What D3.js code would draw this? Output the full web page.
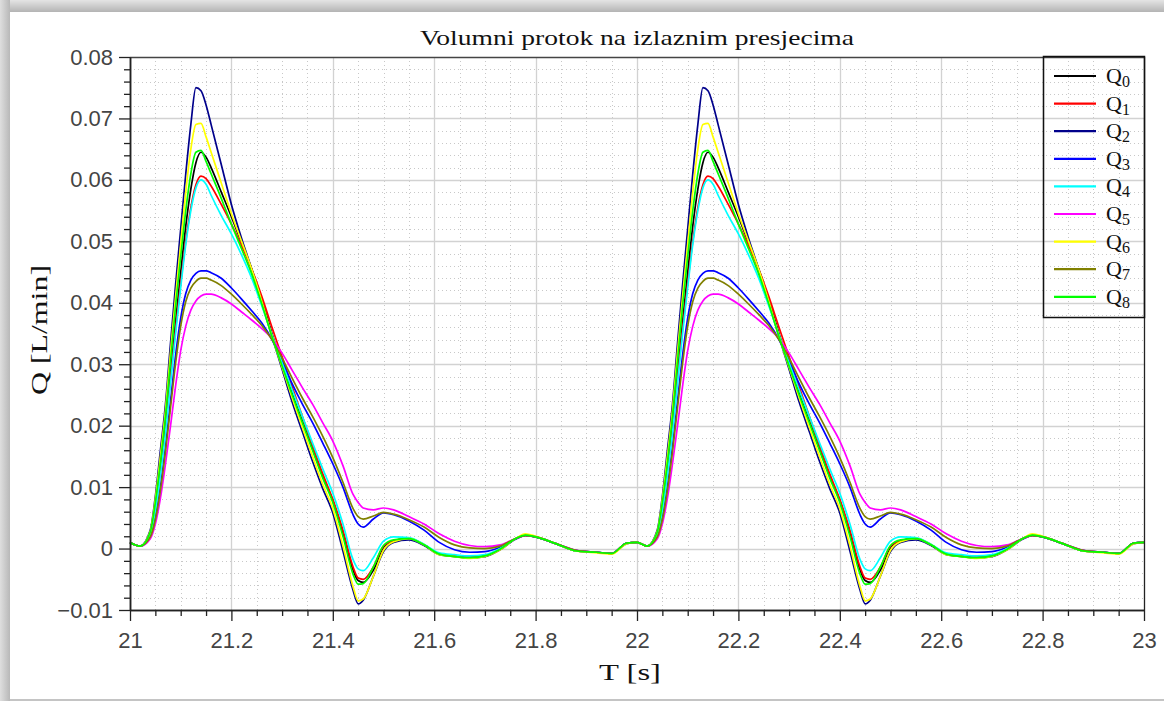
<!DOCTYPE html>
<html><head><meta charset="utf-8">
<script src="https://cdn.jsdelivr.net/npm/d3@7"></script>
<style>body{margin:0;background:#fff;} svg{display:block}</style>
</head><body><svg id="c" width="1164" height="701"></svg>
<script>
// ---- data ----
const time = [
21.00,21.02,21.04,21.05,21.06,21.07,21.08,21.09,21.10,21.11,21.12,21.13,21.14,21.15,21.16,21.18,21.20,21.22,21.24,21.26,21.28,21.30,21.32,21.34,21.36,21.38,21.40,21.42,21.44,21.45,21.46,21.48,21.50,21.52,21.55,21.58,21.61,21.64,21.67,21.70,21.73,21.76,21.78,21.80,21.84,21.88,21.92,21.95,21.98,
22.00,22.02,22.04,22.05,22.06,22.07,22.08,22.09,22.10,22.11,22.12,22.13,22.14,22.15,22.16,22.18,22.20,22.22,22.24,22.26,22.28,22.30,22.32,22.34,22.36,22.38,22.40,22.42,22.44,22.45,22.46,22.48,22.50,22.52,22.55,22.58,22.61,22.64,22.67,22.70,22.73,22.76,22.78,22.80,22.84,22.88,22.92,22.95,22.98,
23.00];
const q0 = [
0.0010,0.0004,0.0025,0.0068,0.0130,0.0200,0.0285,0.0370,0.0450,0.0525,0.0585,0.0628,0.0645,0.0637,0.0620,0.0580,0.0540,0.0498,0.0455,0.0405,0.0350,0.0300,0.0252,0.0207,0.0162,0.0118,0.0078,0.0025,-0.0035,-0.0052,-0.0055,-0.0035,0.0002,0.0013,0.0016,0.0006,-0.0009,-0.0012,-0.0014,-0.0012,-0.0001,0.0016,0.0022,0.0019,0.0008,-0.0004,-0.0006,-0.0008,0.0009,
0.0010,0.0004,0.0025,0.0068,0.0130,0.0200,0.0285,0.0370,0.0450,0.0525,0.0585,0.0628,0.0645,0.0637,0.0620,0.0580,0.0540,0.0498,0.0455,0.0405,0.0350,0.0300,0.0252,0.0207,0.0162,0.0118,0.0078,0.0025,-0.0035,-0.0052,-0.0055,-0.0035,0.0002,0.0013,0.0016,0.0006,-0.0009,-0.0012,-0.0014,-0.0012,-0.0001,0.0016,0.0022,0.0019,0.0008,-0.0004,-0.0006,-0.0008,0.0009,
0.0010];
const q1 = [
0.0010,0.0004,0.0025,0.0066,0.0125,0.0195,0.0278,0.0358,0.0432,0.0500,0.0555,0.0592,0.0606,0.0602,0.0590,0.0560,0.0528,0.0493,0.0455,0.0410,0.0360,0.0312,0.0263,0.0215,0.0168,0.0122,0.0080,0.0030,-0.0030,-0.0048,-0.0050,-0.0030,0.0004,0.0013,0.0016,0.0006,-0.0009,-0.0012,-0.0014,-0.0012,-0.0001,0.0016,0.0022,0.0019,0.0008,-0.0004,-0.0006,-0.0008,0.0009,
0.0010,0.0004,0.0025,0.0066,0.0125,0.0195,0.0278,0.0358,0.0432,0.0500,0.0555,0.0592,0.0606,0.0602,0.0590,0.0560,0.0528,0.0493,0.0455,0.0410,0.0360,0.0312,0.0263,0.0215,0.0168,0.0122,0.0080,0.0030,-0.0030,-0.0048,-0.0050,-0.0030,0.0004,0.0013,0.0016,0.0006,-0.0009,-0.0012,-0.0014,-0.0012,-0.0001,0.0016,0.0022,0.0019,0.0008,-0.0004,-0.0006,-0.0008,0.0009,
0.0010];
const q2 = [
0.0010,0.0004,0.0030,0.0085,0.0160,0.0235,0.0335,0.0430,0.0520,0.0610,0.0690,0.0750,0.0745,0.0722,0.0690,0.0625,0.0560,0.0505,0.0455,0.0400,0.0345,0.0292,0.0238,0.0190,0.0142,0.0098,0.0058,-0.0004,-0.0068,-0.0090,-0.0084,-0.0045,-0.0005,0.0010,0.0014,0.0005,-0.0010,-0.0013,-0.0015,-0.0013,-0.0002,0.0015,0.0022,0.0019,0.0008,-0.0004,-0.0006,-0.0008,0.0008,
0.0010,0.0004,0.0030,0.0085,0.0160,0.0235,0.0335,0.0430,0.0520,0.0610,0.0690,0.0750,0.0745,0.0722,0.0690,0.0625,0.0560,0.0505,0.0455,0.0400,0.0345,0.0292,0.0238,0.0190,0.0142,0.0098,0.0058,-0.0004,-0.0068,-0.0090,-0.0084,-0.0045,-0.0005,0.0010,0.0014,0.0005,-0.0010,-0.0013,-0.0015,-0.0013,-0.0002,0.0015,0.0022,0.0019,0.0008,-0.0004,-0.0006,-0.0008,0.0008,
0.0010];
const q3 = [
0.0010,0.0004,0.0020,0.0050,0.0100,0.0165,0.0240,0.0315,0.0375,0.0415,0.0437,0.0448,0.0452,0.0452,0.0449,0.0440,0.0424,0.0406,0.0387,0.0367,0.0340,0.0305,0.0268,0.0235,0.0205,0.0172,0.0138,0.0100,0.0055,0.0040,0.0035,0.0048,0.0058,0.0055,0.0045,0.0030,0.0010,-0.0002,-0.0006,-0.0005,0.0002,0.0015,0.0021,0.0019,0.0008,-0.0003,-0.0006,-0.0008,0.0009,
0.0010,0.0004,0.0020,0.0050,0.0100,0.0165,0.0240,0.0315,0.0375,0.0415,0.0437,0.0448,0.0452,0.0452,0.0449,0.0440,0.0424,0.0406,0.0387,0.0367,0.0340,0.0305,0.0268,0.0235,0.0205,0.0172,0.0138,0.0100,0.0055,0.0040,0.0035,0.0048,0.0058,0.0055,0.0045,0.0030,0.0010,-0.0002,-0.0006,-0.0005,0.0002,0.0015,0.0021,0.0019,0.0008,-0.0003,-0.0006,-0.0008,0.0009,
0.0010];
const q4 = [
0.0010,0.0004,0.0024,0.0062,0.0120,0.0188,0.0270,0.0350,0.0425,0.0495,0.0550,0.0587,0.0600,0.0593,0.0575,0.0542,0.0512,0.0478,0.0440,0.0395,0.0348,0.0302,0.0258,0.0215,0.0172,0.0130,0.0090,0.0040,-0.0018,-0.0033,-0.0036,-0.0015,0.0012,0.0019,0.0018,0.0007,-0.0007,-0.0010,-0.0012,-0.0010,0.0000,0.0016,0.0022,0.0019,0.0008,-0.0004,-0.0006,-0.0008,0.0009,
0.0010,0.0004,0.0024,0.0062,0.0120,0.0188,0.0270,0.0350,0.0425,0.0495,0.0550,0.0587,0.0600,0.0593,0.0575,0.0542,0.0512,0.0478,0.0440,0.0395,0.0348,0.0302,0.0258,0.0215,0.0172,0.0130,0.0090,0.0040,-0.0018,-0.0033,-0.0036,-0.0015,0.0012,0.0019,0.0018,0.0007,-0.0007,-0.0010,-0.0012,-0.0010,0.0000,0.0016,0.0022,0.0019,0.0008,-0.0004,-0.0006,-0.0008,0.0009,
0.0010];
const q5 = [
0.0010,0.0004,0.0016,0.0040,0.0082,0.0138,0.0200,0.0265,0.0322,0.0362,0.0388,0.0403,0.0411,0.0414,0.0414,0.0408,0.0398,0.0385,0.0372,0.0358,0.0342,0.0318,0.0290,0.0262,0.0235,0.0205,0.0175,0.0135,0.0088,0.0075,0.0066,0.0063,0.0066,0.0063,0.0052,0.0040,0.0024,0.0012,0.0005,0.0003,0.0006,0.0016,0.0021,0.0019,0.0008,-0.0003,-0.0006,-0.0008,0.0009,
0.0010,0.0004,0.0016,0.0040,0.0082,0.0138,0.0200,0.0265,0.0322,0.0362,0.0388,0.0403,0.0411,0.0414,0.0414,0.0408,0.0398,0.0385,0.0372,0.0358,0.0342,0.0318,0.0290,0.0262,0.0235,0.0205,0.0175,0.0135,0.0088,0.0075,0.0066,0.0063,0.0066,0.0063,0.0052,0.0040,0.0024,0.0012,0.0005,0.0003,0.0006,0.0016,0.0021,0.0019,0.0008,-0.0003,-0.0006,-0.0008,0.0009,
0.0010];
const q6 = [
0.0010,0.0004,0.0028,0.0080,0.0150,0.0225,0.0320,0.0410,0.0495,0.0580,0.0650,0.0690,0.0692,0.0670,0.0645,0.0595,0.0545,0.0500,0.0455,0.0402,0.0346,0.0295,0.0245,0.0197,0.0150,0.0105,0.0065,0.0005,-0.0062,-0.0085,-0.0082,-0.0045,-0.0003,0.0011,0.0016,0.0006,-0.0010,-0.0013,-0.0016,-0.0013,-0.0002,0.0016,0.0024,0.0020,0.0008,-0.0004,-0.0007,-0.0009,0.0008,
0.0010,0.0004,0.0028,0.0080,0.0150,0.0225,0.0320,0.0410,0.0495,0.0580,0.0650,0.0690,0.0692,0.0670,0.0645,0.0595,0.0545,0.0500,0.0455,0.0402,0.0346,0.0295,0.0245,0.0197,0.0150,0.0105,0.0065,0.0005,-0.0062,-0.0085,-0.0082,-0.0045,-0.0003,0.0011,0.0016,0.0006,-0.0010,-0.0013,-0.0016,-0.0013,-0.0002,0.0016,0.0024,0.0020,0.0008,-0.0004,-0.0007,-0.0009,0.0008,
0.0010];
const q7 = [
0.0010,0.0004,0.0019,0.0047,0.0095,0.0158,0.0230,0.0302,0.0362,0.0402,0.0424,0.0435,0.0440,0.0440,0.0437,0.0428,0.0414,0.0398,0.0381,0.0363,0.0340,0.0310,0.0277,0.0245,0.0215,0.0183,0.0148,0.0108,0.0065,0.0052,0.0048,0.0053,0.0059,0.0056,0.0047,0.0035,0.0018,0.0006,0.0001,0.0000,0.0004,0.0016,0.0021,0.0019,0.0008,-0.0003,-0.0006,-0.0008,0.0009,
0.0010,0.0004,0.0019,0.0047,0.0095,0.0158,0.0230,0.0302,0.0362,0.0402,0.0424,0.0435,0.0440,0.0440,0.0437,0.0428,0.0414,0.0398,0.0381,0.0363,0.0340,0.0310,0.0277,0.0245,0.0215,0.0183,0.0148,0.0108,0.0065,0.0052,0.0048,0.0053,0.0059,0.0056,0.0047,0.0035,0.0018,0.0006,0.0001,0.0000,0.0004,0.0016,0.0021,0.0019,0.0008,-0.0003,-0.0006,-0.0008,0.0009,
0.0010];
const q8 = [
0.0010,0.0004,0.0027,0.0075,0.0140,0.0215,0.0305,0.0395,0.0475,0.0550,0.0610,0.0645,0.0648,0.0630,0.0610,0.0570,0.0528,0.0488,0.0447,0.0398,0.0345,0.0297,0.0250,0.0205,0.0160,0.0115,0.0075,0.0020,-0.0042,-0.0058,-0.0057,-0.0030,0.0005,0.0014,0.0016,0.0006,-0.0009,-0.0013,-0.0015,-0.0012,-0.0001,0.0016,0.0022,0.0019,0.0008,-0.0004,-0.0006,-0.0008,0.0009,
0.0010,0.0004,0.0027,0.0075,0.0140,0.0215,0.0305,0.0395,0.0475,0.0550,0.0610,0.0645,0.0648,0.0630,0.0610,0.0570,0.0528,0.0488,0.0447,0.0398,0.0345,0.0297,0.0250,0.0205,0.0160,0.0115,0.0075,0.0020,-0.0042,-0.0058,-0.0057,-0.0030,0.0005,0.0014,0.0016,0.0006,-0.0009,-0.0013,-0.0015,-0.0012,-0.0001,0.0016,0.0022,0.0019,0.0008,-0.0004,-0.0006,-0.0008,0.0009,
0.0010];
const seriesValues = [q0,q1,q2,q3,q4,q5,q6,q7,q8];
const seriesSubs = ["0","1","2","3","4","5","6","7","8"];
const seriesColors = ["#000000","#ff0000","#00008b","#0000ff","#00ffff","#ff00ff","#ffff00","#808000","#00ff00"];
const xTicks = [21,21.2,21.4,21.6,21.8,22,22.2,22.4,22.6,22.8,23];
const yTicks = [-0.01,0,0.01,0.02,0.03,0.04,0.05,0.06,0.07,0.08];
const titleText = "Volumni protok na izlaznim presjecima";
const xLabel = "T [s]";
const yLabel = "Q [L/min]";

// ---- layout ----
const L = 130, R = 1144, T = 57, B = 610;
const svg = d3.select("#c");
const x = d3.scaleLinear().domain([21,23]).range([L,R]);
const y = d3.scaleLinear().domain([-0.01,0.08]).range([B,T]);

// frame shadow
const defs = svg.append("defs");
const gTop = defs.append("linearGradient").attr("id","gt").attr("x1",0).attr("y1",0).attr("x2",0).attr("y2",1);
gTop.append("stop").attr("offset","0%").attr("stop-color","#e4e4e4");
gTop.append("stop").attr("offset","100%").attr("stop-color","#b4b4b4");
const gLeft = defs.append("linearGradient").attr("id","gl").attr("x1",0).attr("y1",0).attr("x2",1).attr("y2",0);
gLeft.append("stop").attr("offset","0%").attr("stop-color","#dedede");
gLeft.append("stop").attr("offset","100%").attr("stop-color","#b8b8b8");
svg.append("rect").attr("x",0).attr("y",0).attr("width",1164).attr("height",701).attr("fill","#fff");
svg.append("rect").attr("x",0).attr("y",0).attr("width",1164).attr("height",12).attr("fill","url(#gt)");
svg.append("rect").attr("x",0).attr("y",0).attr("width",10).attr("height",701).attr("fill","url(#gl)");
svg.append("rect").attr("x",10).attr("y",12).attr("width",1154).attr("height",687).attr("fill","#fff");
svg.append("rect").attr("x",10).attr("y",699).attr("width",1154).attr("height",2).attr("fill","#c4c4c4");

// grid
const grid = svg.append("g");
const minorX = d3.range(0,41).map(i => 21 + i*0.05).filter((d,i)=> i%4!==0);
const minorY = d3.range(0,46).map(i => -0.01 + i*0.002).filter((d,i)=> i%5!==0);
grid.selectAll(".mx").data(minorX).join("line")
  .attr("x1",d=>Math.round(x(d))+0.5).attr("x2",d=>Math.round(x(d))+0.5).attr("y1",T).attr("y2",B)
  .attr("stroke","#c8c8c8").attr("stroke-width",1).attr("stroke-dasharray","1,3");
grid.selectAll(".my").data(minorY).join("line")
  .attr("y1",d=>Math.round(y(d))+0.5).attr("y2",d=>Math.round(y(d))+0.5).attr("x1",L).attr("x2",R)
  .attr("stroke","#c8c8c8").attr("stroke-width",1).attr("stroke-dasharray","1,3");
grid.selectAll(".Mx").data(xTicks.slice(1,-1)).join("line")
  .attr("x1",d=>Math.round(x(d))+0.5).attr("x2",d=>Math.round(x(d))+0.5).attr("y1",T).attr("y2",B)
  .attr("stroke","#d2d2d2").attr("stroke-width",1.3);
grid.selectAll(".My").data(yTicks.slice(1,-1)).join("line")
  .attr("y1",d=>Math.round(y(d))+0.5).attr("y2",d=>Math.round(y(d))+0.5).attr("x1",L).attr("x2",R)
  .attr("stroke","#d2d2d2").attr("stroke-width",1.3);

// series
const line = d3.line().x(d=>x(d[0])).y(d=>y(d[1])).curve(d3.curveMonotoneX);
const plot = svg.append("g");
seriesValues.forEach((vals,i)=>{
  plot.append("path").datum(time.map((t,k)=>[t,vals[k]]))
    .attr("d",line).attr("fill","none").attr("stroke",seriesColors[i])
    .attr("stroke-width",1.7).attr("stroke-linejoin","round");
});

// frame top/right
svg.append("line").attr("x1",L).attr("x2",R+0.5).attr("y1",T+0.5).attr("y2",T+0.5).attr("stroke","#444").attr("stroke-width",1.3);
svg.append("line").attr("x1",R+0.5).attr("x2",R+0.5).attr("y1",T).attr("y2",B).attr("stroke","#222").attr("stroke-width",1.3);

// axes
const fmt = d => d===0 ? "0" : d3.format(".2f")(d).replace("-","\u2212");
const tickFont = "'Liberation Sans', Arial, sans-serif";
const xMinorAxis = svg.append("g").attr("transform",`translate(0,${B})`)
  .call(d3.axisBottom(x).tickValues(minorX).tickSize(6).tickFormat("").tickSizeOuter(0));
const yMinorAxis = svg.append("g").attr("transform",`translate(${L},0)`)
  .call(d3.axisLeft(y).tickValues(minorY).tickSize(6).tickFormat("").tickSizeOuter(0));
const xAxis = svg.append("g").attr("transform",`translate(0,${B})`)
  .call(d3.axisBottom(x).tickValues(xTicks).tickSize(11).tickPadding(11).tickSizeOuter(0).tickFormat(d=>d3.format("~g")(d)));
const yAxis = svg.append("g").attr("transform",`translate(${L},0)`)
  .call(d3.axisLeft(y).tickValues(yTicks).tickSize(11).tickPadding(6).tickSizeOuter(0).tickFormat(fmt));
[xMinorAxis,yMinorAxis,xAxis,yAxis].forEach(g=>{
  g.selectAll("line").attr("stroke","#222").attr("stroke-width",1.3);
  g.select(".domain").attr("stroke","#222").attr("stroke-width",1.5);
  g.selectAll("text").attr("fill","#444").style("font-family",tickFont).style("font-size","22px");
});

// title and labels
const serif = "'Liberation Serif', 'DejaVu Serif', serif";
svg.append("text").attr("x",637).attr("y",45).attr("text-anchor","middle")
  .style("font-family",serif).style("font-size","22px").attr("fill","#111")
  .attr("textLength",434).attr("lengthAdjust","spacingAndGlyphs").text(titleText);
svg.append("text").attr("x",630).attr("y",680).attr("text-anchor","middle")
  .style("font-family",serif).style("font-size","24px").attr("fill","#111")
  .attr("textLength",62).attr("lengthAdjust","spacingAndGlyphs").text(xLabel);
svg.append("text").attr("transform","translate(47,330) rotate(-90)").attr("text-anchor","middle")
  .style("font-family",serif).style("font-size","24px").attr("fill","#111")
  .attr("textLength",130).attr("lengthAdjust","spacingAndGlyphs").text(yLabel);

// legend
const lg = svg.append("g");
lg.append("rect").attr("x",1043.5).attr("y",56.5).attr("width",101).attr("height",261)
  .attr("fill","none").attr("stroke","#111").attr("stroke-width",1.5);
seriesColors.forEach((c,i)=>{
  const yy = 76 + i*27.6;
  lg.append("line").attr("x1",1054).attr("x2",1096).attr("y1",yy).attr("y2",yy)
    .attr("stroke",c).attr("stroke-width",2.2);
  const t = lg.append("text").attr("x",1106).attr("y",yy+7).style("font-family",serif)
    .style("font-size","22px").attr("fill","#111");
  t.append("tspan").text("Q");
  t.append("tspan").attr("dy",4).style("font-size","16px").text(seriesSubs[i]);
});
</script></body></html>
